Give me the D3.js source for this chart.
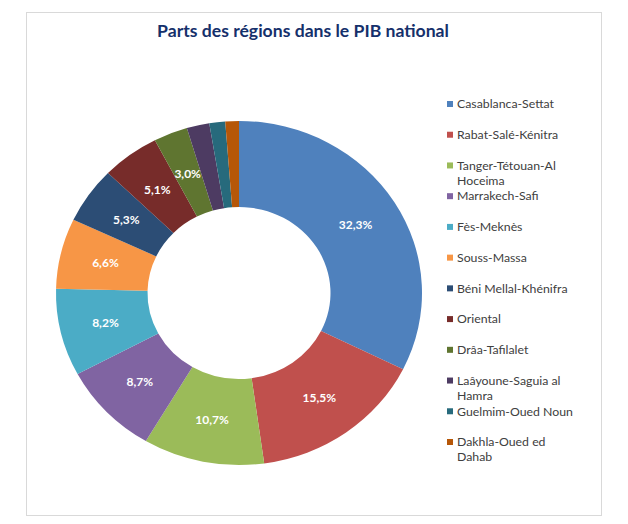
<!DOCTYPE html>
<html>
<head>
<meta charset="utf-8">
<script src="https://cdn.jsdelivr.net/npm/d3@7"></script>
<style>
  html, body { margin: 0; padding: 0; background: #fff; }
  svg { display: block; }
  .legend-text { font-family: Lato, "Open Sans", sans-serif; font-size: 12.3px; fill: #404040; }
  .slice-label { font-family: Lato, "Open Sans", sans-serif; font-size: 12px; font-weight: bold; fill: #fff; }
</style>
</head>
<body>
<div id="chart"></div>
<script>
// Régions et parts dans le PIB (%)
const regions = [
    "Casablanca-Settat", "Rabat-Salé-Kénitra", "Tanger-Tétouan-Al Hoceima", "Marrakech-Safi",
    "Fès-Meknès", "Souss-Massa", "Béni Mellal-Khénifra", "Oriental", "Drâa-Tafilalet",
    "Laâyoune-Saguia al Hamra", "Guelmim-Oued Noun", "Dakhla-Oued ed Dahab"
];
const parts = [32.3, 15.5, 10.7, 8.7, 8.2, 6.6, 5.3, 5.1, 3.0, 2.0, 1.4, 1.2];
const couleurs = [
    "#4F81BD", "#C0504D", "#9BBB59", "#8064A2", "#4BACC6", "#F79646",
    "#2C4D75", "#772C2A", "#5F7530", "#4D3B62", "#276A7C", "#B65708"
];
const titre = "Parts des régions dans le PIB national";

const width = 628, height = 524;
const cx = 239, cy = 293;
const outerR = 183, innerR = 91.5;
const squash = 0.94; // le graphique d'origine est un peu aplati verticalement

const data = regions.map((name, i) => ({ name, value: parts[i] }));

const fr = d3.formatLocale({ decimal: ",", thousands: " ", grouping: [3], currency: ["", " €"] });
const fmt = v => fr.format(".1f")(v) + "%";

const color = d3.scaleOrdinal().domain(regions).range(couleurs);

const svg = d3.select("#chart").append("svg")
    .attr("width", width)
    .attr("height", height);

// cadre
svg.append("rect")
    .attr("x", 26.5).attr("y", 12.5)
    .attr("width", 575).attr("height", 503)
    .attr("fill", "#fff")
    .attr("stroke", "#d9d9d9");

svg.append("text")
    .attr("x", 303)
    .attr("y", 37)
    .attr("text-anchor", "middle")
    .style("font-family", "Lato, 'Open Sans', sans-serif")
    .style("font-size", "17.6px")
    .style("font-weight", "bold")
    .style("fill", "#15306B")
    .text(titre);

const pie = d3.pie().sort(null).value(d => d.value);
const arc = d3.arc().innerRadius(innerR).outerRadius(outerR);
const labelArc = d3.arc().innerRadius((innerR + outerR) / 2).outerRadius((innerR + outerR) / 2);

const arcs = pie(data);

svg.append("g")
    .attr("transform", `translate(${cx},${cy}) scale(1,${squash})`)
    .selectAll("path")
    .data(arcs)
    .join("path")
    .attr("d", arc)
    .attr("fill", d => color(d.data.name));

// étiquettes (seulement pour les parts >= 3 %)
svg.append("g")
    .selectAll("text")
    .data(arcs.filter(d => d.data.value >= 3))
    .join("text")
    .attr("class", "slice-label")
    .attr("text-anchor", "middle")
    .attr("dy", "0.35em")
    .attr("x", d => cx + labelArc.centroid(d)[0])
    .attr("y", d => cy + labelArc.centroid(d)[1] * squash)
    .text(d => fmt(d.data.value));

// légende
const legendY = d3.scalePoint().domain(regions).range([104, 442]);
const legendX = 447;
const maxW = 122;
const lineH = 15;

const items = svg.append("g")
    .selectAll("g")
    .data(regions)
    .join("g")
    .attr("transform", d => `translate(${legendX},${legendY(d)})`);

items.append("rect")
    .attr("x", 0).attr("y", -3)
    .attr("width", 6).attr("height", 6)
    .attr("fill", d => color(d));

items.each(function(name) {
    const t = d3.select(this).append("text")
        .attr("class", "legend-text");
    const words = name.split(" ");
    let line = [];
    let lineNo = 0;
    let tspan = t.append("tspan").attr("x", 10).attr("y", 0).attr("dy", "0.35em");
    words.forEach(w => {
        line.push(w);
        tspan.text(line.join(" "));
        if (tspan.node().getComputedTextLength() > maxW && line.length > 1) {
            line.pop();
            tspan.text(line.join(" "));
            line = [w];
            lineNo++;
            tspan = t.append("tspan")
                .attr("x", 10)
                .attr("y", lineNo * lineH)
                .attr("dy", "0.35em")
                .text(w);
        }
    });
});
</script>
</body>
</html>
